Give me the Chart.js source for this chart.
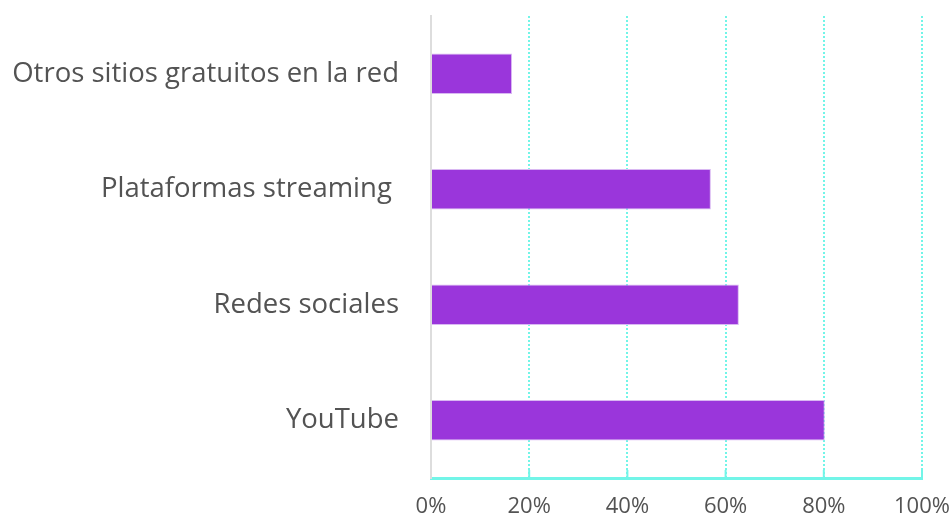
<!DOCTYPE html>
<html lang="es">
<head>
  <meta charset="UTF-8">
  <title>Fuentes de contenido</title>
  <script src="https://cdn.jsdelivr.net/npm/chart.js"></script>
  <style>
    body {
      margin: 0;
      background: #ffffff;
    }
    #wrap {
      width: 952px;
      height: 526px;
    }
  </style>
</head>
<body>
  <div id="wrap"><canvas id="chart"></canvas></div>

  <script>
    // categories and values (percent)
    const categories = [
      'Otros sitios gratuitos en la red',
      'Plataformas streaming ',
      'Redes sociales',
      'YouTube'
    ];
    const shares = [16.5, 57, 62.7, 80.2];
    const xTicks = [0, 20, 40, 60, 80, 100];

    const gridCyan = '#72f5e8';
    const textGrey = '#535353';

    // short solid tick stubs rising from the bottom axis
    const tickStubs = {
      id: 'tickStubs',
      afterDraw(chart) {
        const x = chart.scales.x;
        const ctx = chart.ctx;
        const bottom = chart.chartArea.bottom;
        ctx.save();
        ctx.strokeStyle = gridCyan;
        ctx.lineWidth = 2;
        xTicks.forEach(v => {
          if (v === 0) return;
          const px = x.getPixelForValue(v);
          ctx.beginPath();
          ctx.moveTo(px, bottom);
          ctx.lineTo(px, bottom - 8);
          ctx.stroke();
        });
        ctx.restore();
      }
    };

    const ctx = document.getElementById('chart').getContext('2d');
    new Chart(ctx, {
      type: 'bar',
      data: {
        labels: categories,
        datasets: [{
          data: shares,
          backgroundColor: '#9a36db',
          borderColor: '#d9b8f2',
          borderWidth: 1,
          borderSkipped: 'start',
          categoryPercentage: 1,
          barPercentage: 0.35
        }]
      },
      options: {
        indexAxis: 'y',
        responsive: true,
        maintainAspectRatio: false,
        animation: false,
        layout: {
          padding: { top: 16, right: 30, bottom: 0, left: 0 }
        },
        plugins: {
          legend: { display: false },
          tooltip: { enabled: false }
        },
        scales: {
          x: {
            min: 0,
            max: 100,
            afterBuildTicks(axis) {
              axis.ticks = xTicks.map(v => ({ value: v }));
            },
            afterFit(axis) {
              axis.height = 48;
              axis.paddingLeft = 0;
              axis.paddingRight = 0;
            },
            grid: {
              color: c => (c.tick && c.tick.value === 0) ? 'rgba(0,0,0,0)' : gridCyan,
              lineWidth: 2,
              drawTicks: false
            },
            border: {
              display: true,
              color: gridCyan,
              width: 3,
              dash: [2, 2]
            },
            ticks: {
              padding: 16,
              color: textGrey,
              font: { family: 'Open Sans', size: 22 },
              callback: v => v + '%'
            }
          },
          y: {
            afterFit(axis) {
              axis.width = 431;
              axis.paddingTop = 0;
              axis.paddingBottom = 0;
            },
            grid: { display: false, drawTicks: false },
            border: { display: true, color: '#dddddd', width: 2 },
            ticks: {
              padding: 32,
              color: textGrey,
              font: { family: 'Open Sans', size: 27.5 }
            }
          }
        }
      },
      plugins: [tickStubs]
    });
  </script>
</body>
</html>
